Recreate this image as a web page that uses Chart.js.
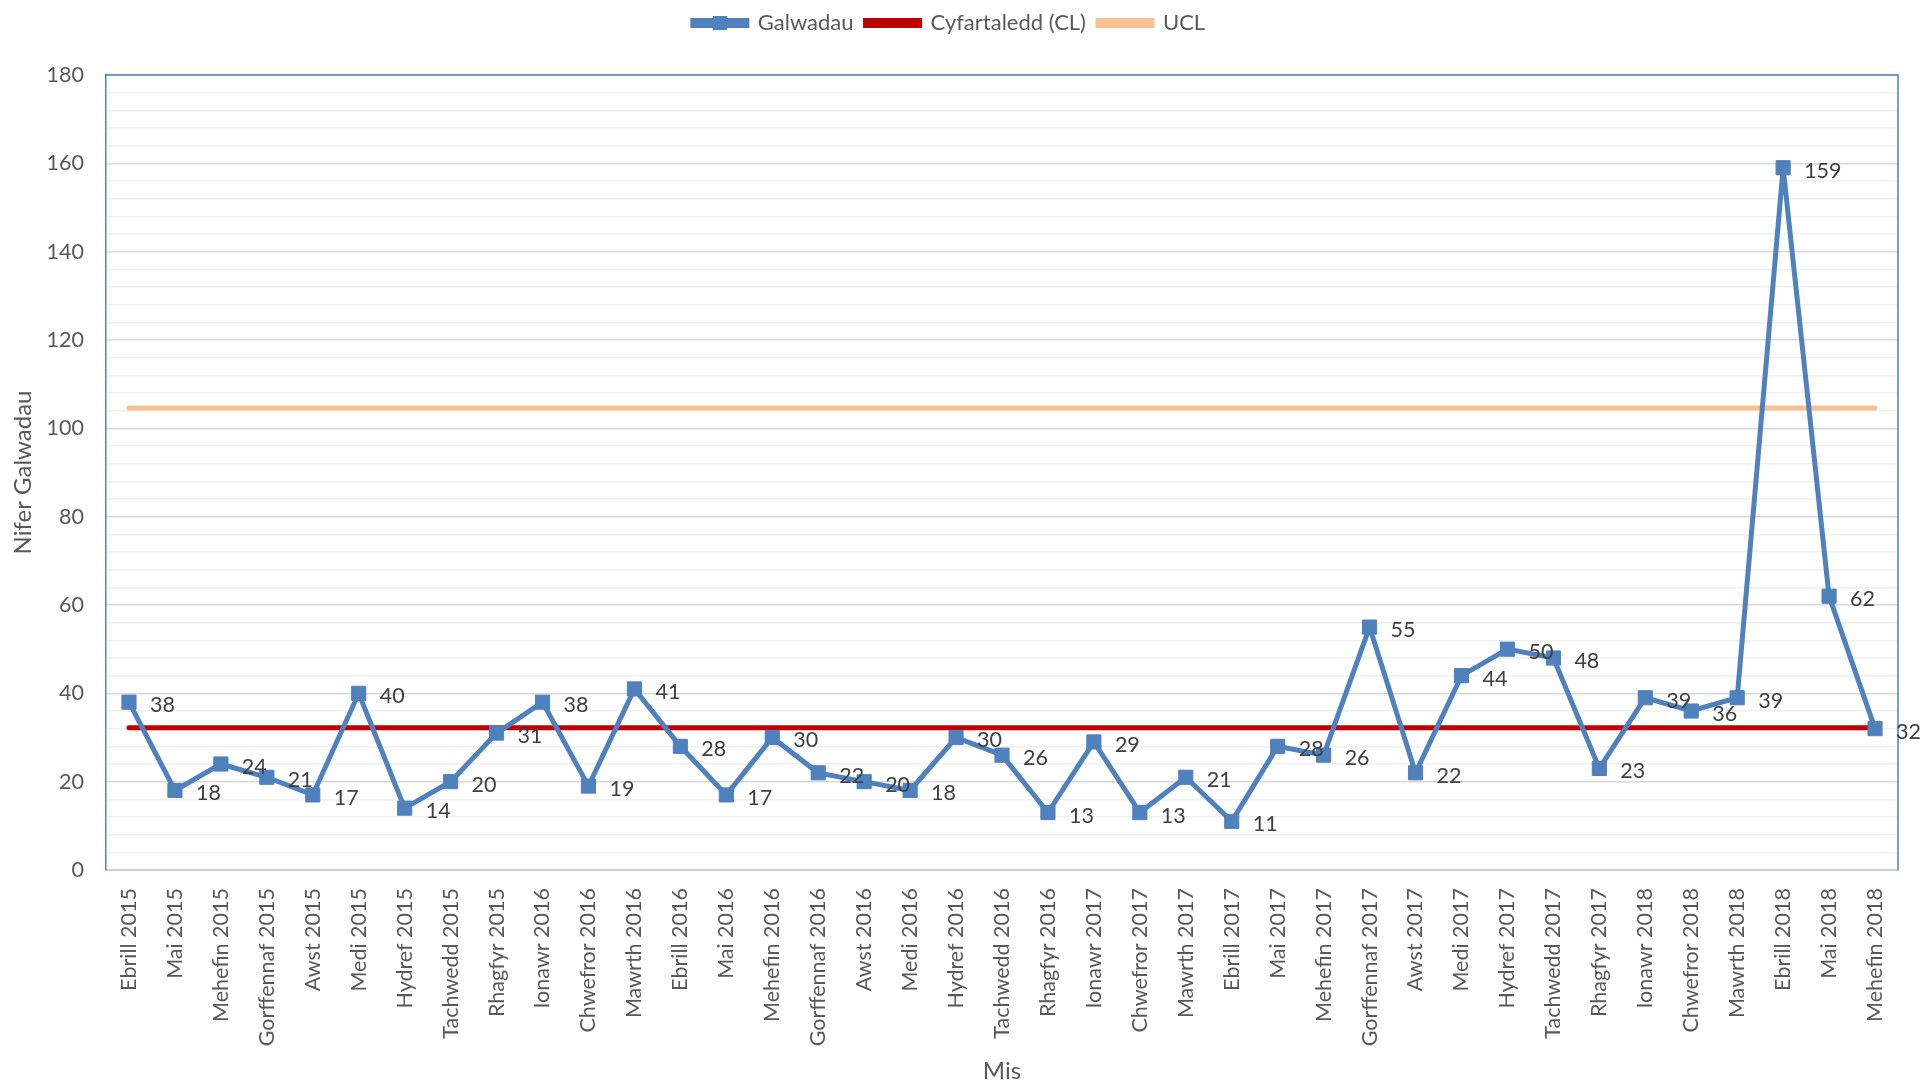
<!DOCTYPE html>
<html>
<head>
<meta charset="utf-8">
<title>Galwadau</title>
<script src="https://cdn.jsdelivr.net/npm/chart.js@4.4.1/dist/chart.umd.min.js"></script>
<style>
  html, body { margin: 0; padding: 0; background: #ffffff; }
  #wrap { width: 1923px; height: 1083px; }
</style>
</head>
<body>
<div id="wrap"><canvas id="callChart"></canvas></div>
<script>
// ===================================================
// Galwadau control chart
// ===================================================

// --- Data ---
const months = [
  "Ebrill 2015", "Mai 2015", "Mehefin 2015", "Gorffennaf 2015", "Awst 2015", "Medi 2015",
  "Hydref 2015", "Tachwedd 2015", "Rhagfyr 2015", "Ionawr 2016", "Chwefror 2016", "Mawrth 2016",
  "Ebrill 2016", "Mai 2016", "Mehefin 2016", "Gorffennaf 2016", "Awst 2016", "Medi 2016",
  "Hydref 2016", "Tachwedd 2016", "Rhagfyr 2016", "Ionawr 2017", "Chwefror 2017", "Mawrth 2017",
  "Ebrill 2017", "Mai 2017", "Mehefin 2017", "Gorffennaf 2017", "Awst 2017", "Medi 2017",
  "Hydref 2017", "Tachwedd 2017", "Rhagfyr 2017", "Ionawr 2018", "Chwefror 2018", "Mawrth 2018",
  "Ebrill 2018", "Mai 2018", "Mehefin 2018"
];
const calls = [
  38, 18, 24, 21, 17, 40, 14, 20, 31, 38, 19, 41,
  28, 17, 30, 22, 20, 18, 30, 26, 13, 29, 13, 21,
  11, 28, 26, 55, 22, 44, 50, 48, 23, 39, 36, 39,
  159, 62, 32
];
const clValue = 32.2;
const uclValue = 104.6;
const clLine = months.map(() => clValue);
const uclLine = months.map(() => uclValue);

// --- Colours & fonts ---
const BLUE = "#4F81BD";
const RED = "#C00000";
const ORANGE = "#FAC090";
const TEXT = "#595959";
const FONT = "Lato, 'Open Sans', sans-serif";

// --- Plugins ---

// Reserve the space above the plot for the legend
const legendSpace = {
  id: "legendSpace",
  beforeInit(chart) {
    const fit = chart.legend.fit;
    chart.legend.fit = function () {
      fit.bind(chart.legend)();
      this.height = 75;
    };
  }
};

// Blue frame on the top and right of the plot area
const plotFrame = {
  id: "plotFrame",
  beforeDatasetsDraw(chart) {
    const { ctx, chartArea: a } = chart;
    ctx.save();
    ctx.strokeStyle = BLUE;
    ctx.lineWidth = 1.5;
    ctx.beginPath();
    ctx.moveTo(a.left, a.top);
    ctx.lineTo(a.right, a.top);
    ctx.lineTo(a.right, a.bottom);
    ctx.stroke();
    ctx.restore();
  }
};

// Value labels to the right of each point
const valueLabels = {
  id: "valueLabels",
  afterDatasetsDraw(chart) {
    const { ctx } = chart;
    const meta = chart.getDatasetMeta(0);
    ctx.save();
    ctx.font = "21.5px " + FONT;
    ctx.fillStyle = "#404040";
    ctx.textAlign = "left";
    ctx.textBaseline = "middle";
    meta.data.forEach((pt, i) => {
      ctx.fillText(String(calls[i]), pt.x + 21, pt.y + 3);
    });
    ctx.restore();
  }
};

// Square marker on the Galwadau legend line
const legendMarker = {
  id: "legendMarker",
  afterDraw(chart) {
    const boxes = chart.legend.legendHitBoxes;
    if (!boxes || !boxes.length) return;
    const b = boxes[0];
    const cx = b.left + 54 / 2;
    const cy = b.top + b.height / 2;
    const { ctx } = chart;
    ctx.save();
    ctx.fillStyle = BLUE;
    ctx.fillRect(cx - 7, cy - 7, 14, 14);
    ctx.restore();
  }
};

// ===================================================
// Build the chart
// ===================================================
document.addEventListener("DOMContentLoaded", () => {
  Chart.defaults.font.family = FONT;
  Chart.defaults.color = TEXT;

  new Chart(document.getElementById("callChart"), {
    type: "line",
    data: {
      labels: months,
      datasets: [
        {
          label: "Galwadau",
          data: calls,
          borderColor: BLUE,
          backgroundColor: BLUE,
          borderWidth: 5,
          pointStyle: "rect",
          pointRadius: 10,
          pointBorderWidth: 1,
          pointBackgroundColor: BLUE,
          pointBorderColor: BLUE,
          tension: 0
        },
        {
          label: "Cyfartaledd (CL)",
          data: clLine,
          borderColor: RED,
          backgroundColor: RED,
          borderWidth: 5,
          borderCapStyle: "round",
          pointRadius: 0
        },
        {
          label: "UCL",
          data: uclLine,
          borderColor: ORANGE,
          backgroundColor: ORANGE,
          borderWidth: 5,
          borderCapStyle: "round",
          pointRadius: 0
        }
      ]
    },
    options: {
      responsive: true,
      maintainAspectRatio: false,
      animation: false,
      events: [],
      layout: { padding: { left: 0, right: 25, top: 0, bottom: 0 } },
      plugins: {
        legend: {
          position: "top",
          labels: {
            boxWidth: 54,
            boxHeight: 5,
            padding: 12,
            color: TEXT,
            font: { size: 22, family: FONT }
          }
        },
        tooltip: { enabled: false }
      },
      scales: {
        x: {
          offset: true,
          grid: { display: false },
          border: { display: true, color: "#C5D1E3", width: 2 },
          ticks: {
            autoSkip: false,
            minRotation: 90,
            maxRotation: 90,
            padding: 10,
            color: TEXT,
            font: { size: 21.5, family: FONT }
          },
          title: {
            display: true,
            text: "Mis",
            color: TEXT,
            padding: { top: 0, bottom: 0 },
            font: { size: 24, family: FONT, lineHeight: 1 }
          },
          afterFit(scale) { scale.height = 213; }
        },
        y: {
          min: 0,
          max: 180,
          border: { display: true, color: BLUE, width: 1.5 },
          grid: {
            drawTicks: false,
            lineWidth: 1.5,
            color: (c) => (c.tick && c.tick.value % 20 === 0 ? "#D9D9D9" : "#F0F0F0")
          },
          ticks: {
            stepSize: 4,
            autoSkip: false,
            padding: 22,
            color: TEXT,
            font: { size: 21.5, family: FONT },
            callback: (v) => (v % 20 === 0 ? v : "")
          },
          title: {
            display: true,
            text: "Nifer Galwadau",
            color: TEXT,
            padding: { top: 11, bottom: 0 },
            font: { size: 24, family: FONT, lineHeight: 1 }
          },
          afterFit(scale) { scale.width = 106; }
        }
      }
    },
    plugins: [legendSpace, plotFrame, valueLabels, legendMarker]
  });
});
</script>
</body>
</html>
